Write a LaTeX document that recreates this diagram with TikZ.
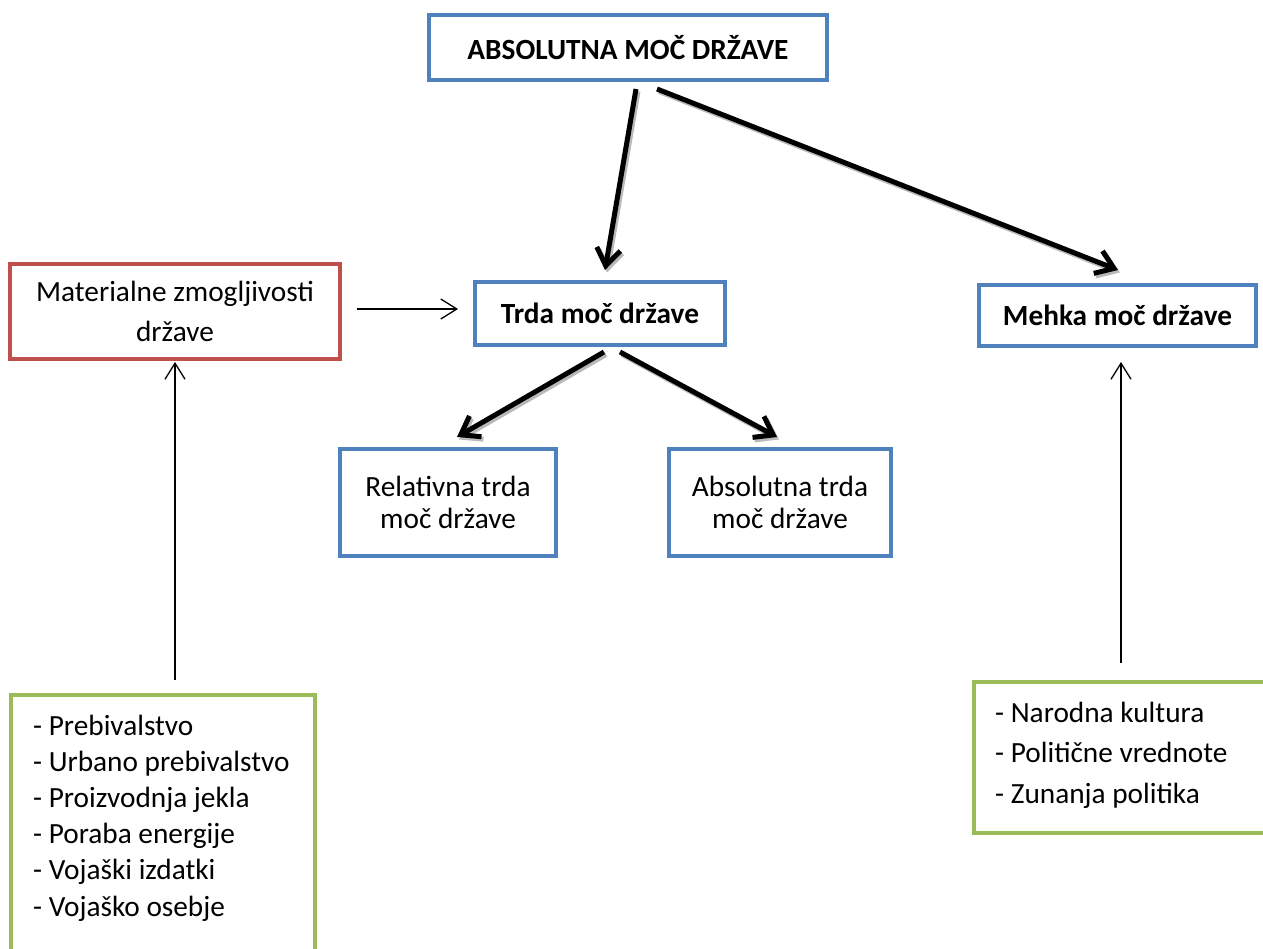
\documentclass[tikz,border=0pt]{standalone}
\usepackage{fontspec}
\setmainfont{Carlito}
\usetikzlibrary{arrows.meta}
\definecolor{bblue}{RGB}{79,129,189}
\definecolor{rred}{RGB}{192,80,77}
\definecolor{ggreen}{RGB}{155,187,89}
\begin{document}
\begin{tikzpicture}[x=1pt,y=-1pt,
  box/.style={draw=#1, line width=4pt, inner sep=0pt, fill=white},
  txt/.style={font=\fontsize{29.3}{32}\selectfont, align=center},
  btxt/.style={font=\fontsize{29.3}{32}\selectfont\bfseries, align=center},
  bigarrow/.style={line width=5pt, -{Straight Barb[length=17pt,width=24pt,line width=5pt]}},
  bigshadow/.style={bigarrow, draw=gray!55, transform canvas={shift={(2pt,-2.5pt)}}},
  thinarrow/.style={line width=1.3pt, -{Straight Barb[length=16pt,width=20pt,line width=1.3pt]}}
]
\useasboundingbox (0,0) rectangle (1263,949);
\clip (0,0) rectangle (1263,949);

% boxes
\node[box=bblue, minimum width=398pt, minimum height=65pt, btxt] (top) at (628,47.5) {ABSOLUTNA MOČ DRŽAVE};
\node[box=bblue, minimum width=250pt, minimum height=63pt, btxt] (trda) at (600,313.5) {Trda moč države};
\node[box=bblue, minimum width=277pt, minimum height=61pt, btxt] (mehka) at (1117.5,315.5) {Mehka moč države};
\node[box=rred, minimum width=330pt, minimum height=95pt, txt, font=\fontsize{29.3}{40}\selectfont] (mat) at (175,311.5) {Materialne zmogljivosti\\države};
\node[box=bblue, minimum width=216pt, minimum height=107pt, txt] (rel) at (448,502.5) {Relativna trda\\moč države};
\node[box=bblue, minimum width=222pt, minimum height=107pt, txt] (abst) at (780,502.5) {Absolutna trda\\moč države};
\node[box=ggreen, minimum width=304pt, minimum height=320pt] (lgreen) at (163,855) {};
\node[box=ggreen, minimum width=320pt, minimum height=151pt] (rgreen) at (1134,757.5) {};
\node[anchor=base west, inner sep=0pt, align=left, font=\fontsize{29.3}{36.2}\selectfont] (ltext) at (33,916)
  {- Prebivalstvo\\- Urbano prebivalstvo\\- Proizvodnja jekla\\- Poraba energije\\- Vojaški izdatki\\- Vojaško osebje};
\node[anchor=base west, inner sep=0pt, align=left, font=\fontsize{29.3}{40.5}\selectfont] (rtext) at (995,803)
  {- Narodna kultura\\- Politične vrednote\\- Zunanja politika};

% connector ends
\coordinate (a1s) at (636,89);   \coordinate (a1e) at (605,270);
\coordinate (a2s) at (657,89);   \coordinate (a2e) at (1118,270);
\coordinate (a3s) at (604,352);  \coordinate (a3e) at (457,437);
\coordinate (a4s) at (620,352);  \coordinate (a4e) at (777,437);
\coordinate (t1s) at (357,309);  \coordinate (t1e) at (458,309);
\coordinate (t2s) at (175,680);  \coordinate (t2e) at (175,362);
\coordinate (t3s) at (1121,663); \coordinate (t3e) at (1121,362);

% thick shadowed arrows
\foreach \a in {1,2,3,4}{
  \draw[bigshadow] (a\a s) -- (a\a e);
}
\foreach \a in {1,2,3,4}{
  \draw[bigarrow] (a\a s) -- (a\a e);
}
% thin arrows
\draw[thinarrow] (t1s) -- (t1e);
\draw[thinarrow] (t2s) -- (t2e);
\draw[thinarrow] (t3s) -- (t3e);
\end{tikzpicture}
\end{document}
